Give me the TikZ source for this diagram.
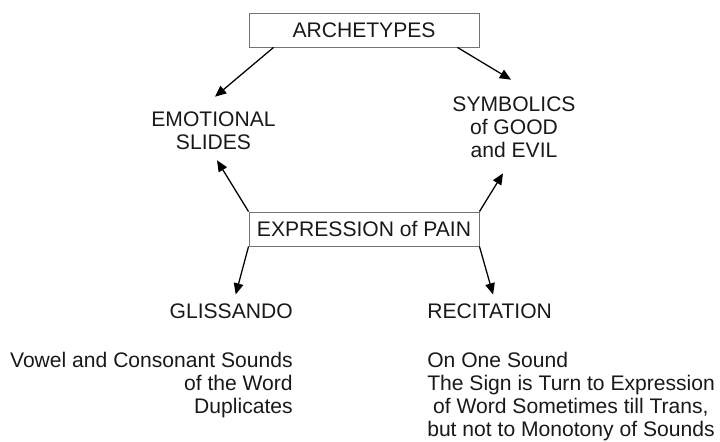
\documentclass[tikz,border=0pt]{standalone}
\usepackage{fontspec}
\setmainfont{Liberation Sans}
\usetikzlibrary{calc,arrows.meta}

\begin{document}
\begin{tikzpicture}[x=0.025cm,y=-0.025cm,
        every node/.style={inner sep=0pt,text=black!90,font=\fontsize{15pt}{16.4pt}\selectfont},
        box/.style={draw=black!55,line width=0.6pt,minimum width=5.75cm,minimum height=0.85cm},
        arr/.style={line width=0.9pt,-{Triangle[length=2.8mm,width=2.4mm]}}]
    \useasboundingbox (0,0) rectangle (720,441);
    \node[box] (arch) at (364,30) {ARCHETYPES};
    \node[box] (expr) at (364,229) {EXPRESSION of PAIN};
    \node[align=center] (emo) at (213.5,131) {EMOTIONAL\\SLIDES};
    \node[align=center] (sym) at (514,127.5) {SYMBOLICS\\of GOOD\\and EVIL};
    \node[anchor=base east] (gli) at (293,318) {GLISSANDO};
    \node[anchor=base west] (rec) at (427,318) {RECITATION};
    \node[anchor=north east,align=right] (gliText) at (293,352)
        {Vowel and Consonant Sounds\\of the Word\\Duplicates};
    \node[anchor=north west,align=left] (recText) at (427,351.5)
        {On One Sound\\The Sign is Turn to Expression\\\ of Word Sometimes till Trans,\\but not to Monotony of Sounds};
    % arrows
    \draw[arr] ($(arch.south west)+(25,0)$) -- ($(emo.north)+(1.5,-15)$);
    \draw[arr] ($(arch.south east)+(-22,0)$) -- ($(sym.north)+(-3,-17)$);
    \draw[arr] (expr.north west) -- ($(emo.south)+(3.5,10)$);
    \draw[arr] (expr.north east) -- ($(sym.south)+(-11,15)$);
    \draw[arr] (expr.south west) -- ($(gli.north)+(4.5,-8.5)$);
    \draw[arr] (expr.south east) -- ($(rec.north)+(3.5,-8.5)$);
\end{tikzpicture}
\end{document}
